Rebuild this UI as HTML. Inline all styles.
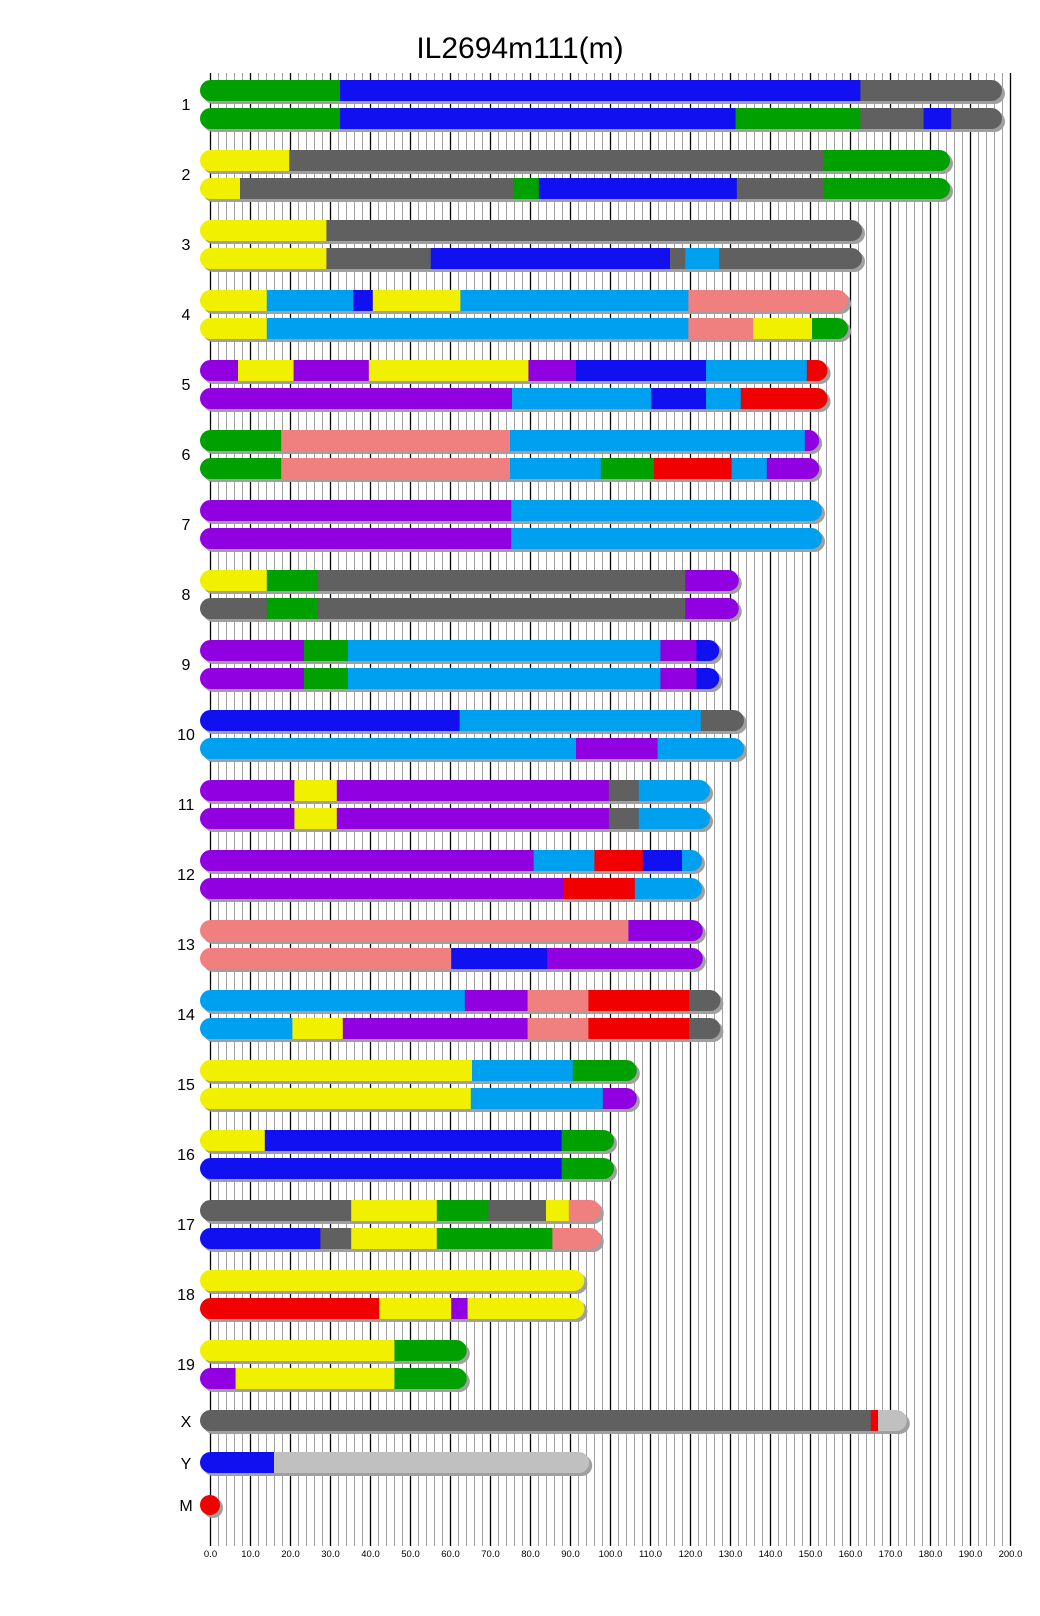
<!DOCTYPE html>
<html><head><meta charset="utf-8"><style>
html,body{margin:0;padding:0;background:#fff;}
svg{display:block;}
text{font-family:"Liberation Sans",Arial,sans-serif;}
</style></head><body>
<svg id="s" width="1040" height="1616" viewBox="0 0 1040 1616" xmlns="http://www.w3.org/2000/svg">
<text x="520" y="58" font-size="30" text-anchor="middle" fill="#000">IL2694m111(m)</text>
<g id="grid"></g>
<g id="bars"></g>
</svg>
<script>
var NS="http://www.w3.org/2000/svg";
function el(t,a,p){var e=document.createElementNS(NS,t);for(var k in a)e.setAttribute(k,a[k]);p.appendChild(e);return e;}
var G=document.getElementById('grid'),B=document.getElementById('bars');
for(var u=0;u<=200;u+=2){var x=210+u*4+0.5;var blk=(u%10==0);
 el('line',{x1:x,x2:x,y1:73,y2:1546,stroke:blk?'#000':'#a0a0a0','stroke-width':blk?1.3:1},G);
 if(blk){var t=el('text',{x:x,y:1557,'font-size':9.5,'text-anchor':'middle',fill:'#000'},G);t.textContent=u.toFixed(1);}
}
var C={g:'#00a000',b:'#1010f0',k:'#606060',y:'#f0f000',l:'#00a0f0',p:'#f08080',u:'#9000e0',r:'#f00000',s:'#c0c0c0'};
var data=[
["1",198,["g",32.5,"b",162.6,"k",198],["g",32.5,"b",131.4,"g",162.6,"k",178.4,"b",185.3,"k",198]],
["2",185,["y",19.8,"k",153.4,"g",185],["y",7.5,"k",76,"g",82.2,"b",131.7,"k",153.4,"g",185]],
["3",163,["y",29.1,"k",163],["y",29.1,"k",55.2,"b",115,"k",118.8,"l",127.3,"k",163]],
["4",159.5,["y",14.2,"l",35.8,"b",40.7,"y",62.6,"l",119.6,"p",159.5],["y",14.2,"l",119.6,"p",135.8,"y",150.5,"g",159.5]],
["5",154.4,["u",7,"y",20.9,"u",39.7,"y",79.6,"u",91.5,"b",124,"l",149.2,"r",154.4],["u",75.5,"l",110.3,"b",124,"l",132.7,"r",154.4]],
["6",152.3,["g",17.8,"p",75,"l",148.7,"u",152.3],["g",17.8,"p",75,"l",97.7,"g",111,"r",130.4,"l",139.2,"u",152.3]],
["7",153,["u",75.3,"l",153],["u",75.3,"l",153]],
["8",132.2,["y",14.2,"g",27,"k",118.8,"u",132.2],["k",14.2,"g",27,"k",118.8,"u",132.2]],
["9",127.3,["u",23.5,"g",34.5,"l",112.6,"u",121.6,"b",127.3],["u",23.5,"g",34.5,"l",112.6,"u",121.6,"b",127.3]],
["10",133.5,["b",62.4,"l",122.7,"k",133.5],["l",91.5,"u",111.9,"l",133.5]],
["11",125,["u",21.1,"y",31.7,"u",99.7,"k",107.2,"l",125],["u",21.1,"y",31.7,"u",99.7,"k",107.2,"l",125]],
["12",123,["u",80.9,"l",96.1,"r",108.2,"b",118,"l",123],["u",88.4,"r",106.2,"l",123]],
["13",123.2,["p",104.6,"u",123.2],["p",60.3,"b",84.3,"u",123.2]],
["14",127.6,["l",63.7,"u",79.4,"p",94.6,"r",119.8,"k",127.6],["l",20.6,"y",33.2,"u",79.4,"p",94.6,"r",119.8,"k",127.6]],
["15",106.7,["y",65.5,"l",90.7,"g",106.7],["y",65.2,"l",98.2,"u",106.7]],
["16",101,["y",13.7,"b",87.9,"g",101],["b",87.9,"g",101]],
["17",97.7,["k",35.3,"y",56.7,"g",69.6,"k",84,"y",89.7,"p",97.7],["b",27.6,"k",35.3,"y",56.7,"g",85.6,"p",97.7]],
["18",93.6,["y",93.6],["r",42.3,"y",60.3,"u",64.4,"y",93.6]],
["19",64.2,["y",46.1,"g",64.2],["u",6.4,"y",46.1,"g",64.2]]
];
var cid=0;
function bar(top,len,segs){
 var x0=200,x1=210+len*4,h=21;
 el('rect',{x:x0+3,y:top+3,width:x1-x0,height:h,rx:10.5,fill:'#a0a0a0'},B);
 var id='c'+(cid++);var cp=el('clipPath',{id:id},B);
 el('rect',{x:x0,y:top,width:x1-x0,height:h,rx:10.5},cp);
 var g=el('g',{'clip-path':'url(#'+id+')'},B);var prev=x0;
 for(var i=0;i<segs.length;i+=2){var e=210+segs[i+1]*4;if(segs[i+1]>=len)e=x1;
  el('rect',{x:prev,y:top,width:e-prev+0.5,height:h,fill:C[segs[i]]},g);prev=e;}
}
function label(txt,y){var t=el('text',{x:186,y:y,'font-size':16,'text-anchor':'middle',fill:'#000'},B);t.textContent=txt;}
data.forEach(function(d,i){var top=80+70*i;bar(top,d[1],d[2]);bar(top+28,d[1],d[3]);label(d[0],top+30);});
bar(1410,174.2,["k",165.2,"r",167,"s",174.2]);label("X",1427);
bar(1452,94.8,["b",16,"s",94.8]);label("Y",1469);
el('circle',{cx:213,cy:1508,r:10,fill:'#a0a0a0'},B);
el('circle',{cx:210,cy:1505,r:10,fill:'#f00000'},B);label("M",1511);
</script>
</body></html>
